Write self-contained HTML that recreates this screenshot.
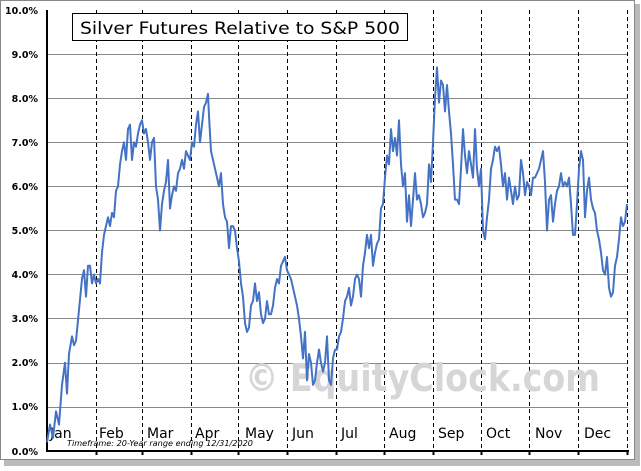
<!DOCTYPE html>
<html><head><style>
body{margin:0;background:#fff;width:641px;height:467px;overflow:hidden;font-family:"DejaVu Sans","Liberation Sans",sans-serif}
</style></head><body>
<svg width="641" height="467" xmlns="http://www.w3.org/2000/svg" font-family="DejaVu Sans, Liberation Sans, sans-serif">
<rect x="4" y="4" width="636" height="462" fill="#bbb"/>
<rect x="0.5" y="0.5" width="634" height="459" fill="#fff" stroke="#888"/>
<g stroke="#888" stroke-width="1">
<line x1="47" x2="628" y1="54.5" y2="54.5"/><line x1="47" x2="628" y1="98.5" y2="98.5"/>
<line x1="47" x2="628" y1="142.5" y2="142.5"/><line x1="47" x2="628" y1="186.5" y2="186.5"/>
<line x1="47" x2="628" y1="230.5" y2="230.5"/><line x1="47" x2="628" y1="274.5" y2="274.5"/>
<line x1="47" x2="628" y1="318.5" y2="318.5"/><line x1="47" x2="628" y1="363.5" y2="363.5"/>
<line x1="47" x2="628" y1="407.5" y2="407.5"/>
</g>
<g stroke="#000" stroke-dasharray="4,3">
<line x1="96.5" x2="96.5" y1="10" y2="451"/><line x1="142.5" x2="142.5" y1="10" y2="451"/>
<line x1="191.5" x2="191.5" y1="10" y2="451"/><line x1="238.5" x2="238.5" y1="10" y2="451"/>
<line x1="287.5" x2="287.5" y1="10" y2="451"/><line x1="336.5" x2="336.5" y1="10" y2="451"/>
<line x1="384.5" x2="384.5" y1="10" y2="451"/><line x1="433.5" x2="433.5" y1="10" y2="451"/>
<line x1="481.5" x2="481.5" y1="10" y2="451"/><line x1="529.5" x2="529.5" y1="10" y2="451"/>
<line x1="578.5" x2="578.5" y1="10" y2="451"/><line x1="627.5" x2="627.5" y1="10" y2="451"/>
</g>
<g stroke="#000" stroke-width="2"><line x1="47" x2="47" y1="10" y2="452"/><line x1="46" x2="629" y1="451" y2="451"/></g>
<g stroke="#000" stroke-width="2">
<line x1="96.5" x2="96.5" y1="451" y2="455"/><line x1="142.5" x2="142.5" y1="451" y2="455"/><line x1="191.5" x2="191.5" y1="451" y2="455"/><line x1="238.5" x2="238.5" y1="451" y2="455"/><line x1="287.5" x2="287.5" y1="451" y2="455"/><line x1="336.5" x2="336.5" y1="451" y2="455"/><line x1="384.5" x2="384.5" y1="451" y2="455"/><line x1="433.5" x2="433.5" y1="451" y2="455"/><line x1="481.5" x2="481.5" y1="451" y2="455"/><line x1="529.5" x2="529.5" y1="451" y2="455"/><line x1="578.5" x2="578.5" y1="451" y2="455"/><line x1="627.5" x2="627.5" y1="451" y2="455"/>
</g>
<g font-size="9.5" font-weight="bold" text-anchor="end" fill="#000">
<text x="38" y="14">10.0%</text><text x="38" y="58">9.0%</text><text x="38" y="102">8.0%</text><text x="38" y="146">7.0%</text><text x="38" y="190">6.0%</text><text x="38" y="234">5.0%</text><text x="38" y="278">4.0%</text><text x="38" y="322">3.0%</text><text x="38" y="366">2.0%</text><text x="38" y="410">1.0%</text><text x="38" y="455">0.0%</text>
</g>
<text x="245" y="391" font-size="38" font-weight="bold" fill="#d6d6d6" textLength="355" lengthAdjust="spacingAndGlyphs">© EquityClock.com</text>
<g font-size="14" fill="#000">
<text x="50" y="438">Jan</text><text x="99" y="438">Feb</text><text x="147" y="438">Mar</text><text x="195" y="438">Apr</text><text x="245" y="438">May</text><text x="292" y="438">Jun</text><text x="341" y="438">Jul</text><text x="389" y="438">Aug</text><text x="438" y="438">Sep</text><text x="486" y="438">Oct</text><text x="535" y="438">Nov</text><text x="584" y="438">Dec</text>
</g>
<text x="67" y="446" font-size="8" font-style="italic" fill="#000" textLength="186" lengthAdjust="spacingAndGlyphs">Timeframe:   20-Year range  ending 12/31/2020</text>
<rect x="72.5" y="13.5" width="335" height="27" fill="#fff" stroke="#000"/>
<text x="80" y="34" font-size="17" fill="#000" textLength="320" lengthAdjust="spacingAndGlyphs">Silver Futures Relative to S&amp;P 500</text>
<g transform="translate(0,451) scale(1,-44.1)">
<polyline fill="none" stroke="#4472c4" stroke-width="2" vector-effect="non-scaling-stroke" stroke-linejoin="round" points="47,0.2 50,0.6 53,0.3 56,0.9 59,0.6 62,1.5 65,2.0 67,1.3 69,2.2 72,2.6 74,2.4 76,2.5 79,3.2 82,3.9 84,4.1 86,3.5 88,4.2 90,4.2 92,3.8 94,4.0 96,3.8 98,3.9 100,3.8 102,4.5 104,4.9 106,5.1 108,5.3 110,5.1 112,5.4 114,5.3 116,5.9 118,6.0 120,6.5 122,6.8 124,7.0 126,6.6 128,7.3 130,7.4 132,6.6 134,7.0 136,6.9 138,7.2 140,7.4 142,7.5 144,7.2 146,7.3 148,7.0 150,6.6 152,7.0 154,7.1 156,6.0 158,5.7 160,5.0 162,5.6 164,5.9 166,6.1 168,6.6 170,5.5 172,5.8 174,6.0 176,5.9 178,6.3 180,6.4 182,6.6 184,6.4 186,6.8 188,6.7 190,6.6 192,7.0 194,6.9 196,7.4 198,7.7 200,7.0 202,7.4 204,7.8 206,7.9 208,8.1 209,7.6 211,6.8 213,6.6 215,6.4 217,6.2 219,6.0 221,6.3 223,5.6 225,5.3 227,5.2 229,4.6 231,5.1 233,5.1 235,5.0 237,4.6 239,4.3 241,3.8 243,3.5 245,2.9 247,2.7 249,2.8 251,3.3 253,3.4 255,3.8 257,3.4 259,3.6 261,3.1 263,2.9 265,3.0 267,3.4 269,3.1 271,3.1 273,3.3 275,3.7 277,3.9 279,3.8 281,4.2 283,4.3 285,4.4 287,4.1 289,4.0 291,3.9 293,3.7 295,3.5 297,3.3 299,3.0 301,2.6 303,2.1 305,2.7 307,1.6 309,2.2 311,2.0 313,1.5 315,1.6 317,2.0 319,2.3 321,2.0 323,1.8 325,2.0 327,2.6 329,1.6 331,1.5 333,2.1 335,2.3 337,2.3 339,2.6 341,2.7 343,3.0 345,3.4 347,3.5 349,3.7 351,3.3 353,3.5 355,3.9 357,4.0 359,3.9 361,3.5 363,4.2 365,4.5 367,4.9 369,4.6 371,4.9 373,4.2 375,4.5 377,4.7 379,4.8 381,5.5 383,5.6 385,6.2 387,6.7 389,6.5 391,7.3 393,6.8 395,7.1 397,6.7 399,7.5 401,6.5 403,6.0 405,6.3 407,5.2 409,5.8 411,5.1 413,5.7 415,6.3 417,5.7 419,5.8 421,5.6 423,5.3 425,5.4 427,5.6 429,6.5 431,6.1 433,7.0 435,8.0 437,8.7 439,7.9 441,8.4 443,8.3 445,7.7 447,8.3 449,7.7 451,7.2 453,6.5 455,5.7 457,5.7 459,5.6 461,6.4 463,7.3 465,6.7 467,6.3 469,6.8 471,6.5 473,6.2 475,7.3 477,6.4 479,6.0 481,6.4 483,5.0 485,4.8 487,5.3 489,5.7 491,6.4 493,6.6 495,6.9 497,6.8 499,6.9 501,6.5 503,6.0 505,6.3 507,5.7 509,6.2 511,5.9 513,5.6 515,6.0 517,5.7 519,5.8 521,6.6 523,6.3 525,5.8 527,6.1 529,6.0 531,5.8 533,6.2 535,6.2 537,6.3 539,6.4 541,6.6 543,6.8 545,6.1 547,5.0 549,5.7 551,5.8 553,5.2 555,5.6 557,5.9 559,6.0 561,6.3 563,6.0 565,6.1 567,6.0 569,6.2 571,5.6 573,4.9 575,4.9 577,5.6 579,6.4 581,6.8 583,6.6 585,5.3 587,5.9 589,6.2 591,5.7 593,5.5 595,5.4 597,5.0 599,4.8 601,4.5 603,4.1 605,4.0 607,4.4 609,3.7 611,3.5 613,3.6 615,4.2 617,4.4 619,4.8 621,5.3 623,5.1 625,5.2 627,5.6"/>
</g>
</svg>
</body></html>
